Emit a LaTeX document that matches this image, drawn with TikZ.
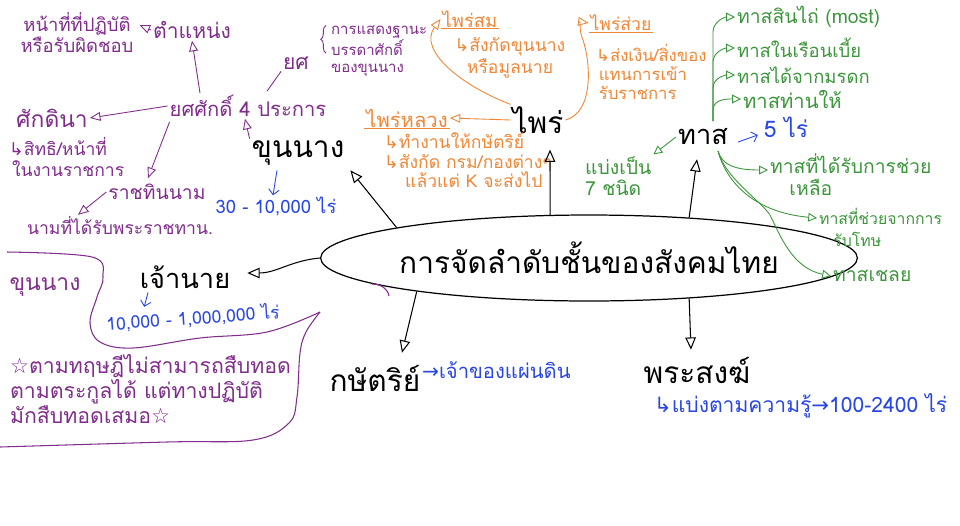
\documentclass[tikz,border=0pt]{standalone}
\usepackage{fontspec}
\setmainfont[Script=Thai]{Loma}
\newfontfamily\sym{DejaVu Sans}
\usetikzlibrary{shapes.geometric,arrows.meta,calc,decorations.pathreplacing}
\definecolor{pur}{RGB}{128,45,140}
\definecolor{org}{RGB}{240,135,55}
\definecolor{grn}{RGB}{60,150,60}
\definecolor{blu}{RGB}{40,70,230}
\newcommand\fsz[2]{\fontsize{#1}{#2}\selectfont}
\begin{document}
\begin{tikzpicture}[x=0.02cm,y=-0.02cm,
 t/.style={inner sep=1pt},
 blk/.style={t,text=black,font=\fsz{17}{20}},
 pt/.style={t,text=pur},
 ot/.style={t,text=org},
 gt/.style={t,text=grn,anchor=west},
 bt/.style={t,text=blu},
 ba/.style={-{Triangle[open,length=7pt,width=6pt]},line width=0.6pt,black},
 pa/.style={-{Triangle[open,length=6pt,width=5pt]},line width=0.5pt,pur},
 oa/.style={-{Triangle[open,length=6pt,width=5pt]},line width=0.5pt,org},
 ga/.style={-{Triangle[open,length=5pt,width=5pt]},line width=0.5pt,grn},
 bla/.style={-{Straight Barb[length=3pt]},line width=0.5pt,blu},
]
\fill[white] (0,0) rectangle (960,525);
\useasboundingbox (0,0) rectangle (960,525);

% centre
\node[draw,ellipse,line width=0.7pt,minimum width=8.16cm,minimum height=1.72cm,inner sep=0pt,font=\fsz{17}{20}] (ell) at (589,258) {การจัดลำดับชั้นของสังคมไทย};

% black main labels
\node[blk] (khun) at (298,153) {ขุนนาง};
\node[blk,font=\fsz{15.5}{18}] (chao) at (185,277) {เจ้านาย};
\node[blk] (phrai) at (538,120) {ไพร่};
\node[blk,font=\fsz{15.5}{18}] (that) at (703,137) {ทาส};
\node[blk] (kasat) at (375,378) {กษัตริย์};
\node[blk] (song) at (697,370) {พระสงฆ์};

% purple
\node[pt,font=\fsz{11.5}{14}] (yos4) at (248,106) {ยศศักดิ์ 4 ประการ};
\node[pt,font=\fsz{12}{14}] (tam) at (192,30) {ตำแหน่ง};
\node[pt,font=\fsz{10.5}{10.5},align=center] (natee) at (77,33) {หน้าที่ที่ปฏิบัติ\\หรือรับผิดชอบ};
\node[pt,font=\fsz{13}{15}] (sakdi) at (52,118) {ศักดินา};
\node[pt,font=\fsz{10}{11.5},align=left,anchor=west] (sit) at (7,157) {{\sym ↳}สิทธิ/หน้าที่\\\,ในงานราชการ};
\node[pt,font=\fsz{11}{13}] (ratch) at (157,192) {ราชทินนาม};
\node[pt,font=\fsz{10}{12}] (nam) at (120,226) {นามที่ได้รับพระราชทาน.};
\node[pt,font=\fsz{12}{14}] (yos) at (296,63) {ยศ};
\node[pt,font=\fsz{8.5}{9.6},align=left,anchor=west] (yosd) at (329,51) {การแสดงฐานะ\\บรรดาศักดิ์\\ของขุนนาง};
\draw[pur,line width=0.5pt,decorate,decoration={brace,amplitude=3pt}] ($(yosd.west)+(-3,2)$) -- ($(yosd.north west)+(-3,2)$);

% purple note
\node[pt,font=\fsz{13}{15}] (khun2) at (45,287) {ขุนนาง};
\node[pt,font=\fsz{12.1}{12.5},align=left,anchor=north west] (note) at (8,352) {{\sym ☆}ตามทฤษฎีไม่สามารถสืบทอด\\ตามตระกูลได้ แต่ทางปฏิบัติ\\มักสืบทอดเสมอ{\sym ☆}};
\draw[pur,line width=0.6pt] plot[smooth,tension=0.6] coordinates {(7,252) (92,257) (103,277) (97,297) (90,323) (100,342) (133,348) (200,338) (267,332) (320,312)};
\draw[pur,line width=0.6pt] plot[smooth,tension=0.6] coordinates {(320,312) (306,332) (300,353) (297,397) (289,423) (253,440) (167,442) (0,447)};
\draw[pur,line width=0.6pt] (372,284) to[out=0,in=100] (389,296);

% orange
\node[ot,font=\fsz{10.5}{12}] (psom) at (470,19) {ไพร่สม};
\draw[org,line width=0.5pt] ($(psom.south west)+(0,-1)$) -- ($(psom.south east)+(0,-1)$);
\node[ot,font=\fsz{10}{12.5},align=center] (psomd) at (510,58) {{\sym ↳}สังกัดขุนนาง\\หรือมูลนาย};
\node[ot,font=\fsz{10}{12}] (psuay) at (621,23) {ไพร่ส่วย};
\draw[org,line width=0.5pt] ($(psuay.south west)+(0,-1)$) -- ($(psuay.south east)+(0,-1)$);
\node[ot,font=\fsz{9.5}{10.8},align=left,anchor=north west] (psuayd) at (594,42) {{\sym ↳}ส่งเงิน/สิ่งของ\\\,แทนการเข้า\\\,รับราชการ};
\node[ot,font=\fsz{11.5}{13}] (pluang) at (407,118) {ไพร่หลวง};
\draw[org,line width=0.5pt] ($(pluang.south west)+(0,-1)$) -- ($(pluang.south east)+(0,-1)$);
\node[ot,font=\fsz{10}{11},align=left,anchor=north west] (pluangd) at (382,131) {{\sym ↳}ทำงานให้กษัตริย์\\{\sym ↳}สังกัด กรม/กองต่างๆ\\\hspace{1.2em}แล้วแต่ K จะส่งไป};

% green
\node[gt,font=\fsz{11}{13}] (g1) at (735,17) {ทาสสินไถ่ (most)};
\node[gt,font=\fsz{10.5}{13}] (g2) at (735,48) {ทาสในเรือนเบี้ย};
\node[gt,font=\fsz{10.5}{13}] (g3) at (735,75) {ทาสได้จากมรดก};
\node[gt,font=\fsz{11.5}{13}] (g4) at (741,99) {ทาสท่านให้};
\node[gt,font=\fsz{11}{12.5},align=left] (g5) at (768,175) {ทาสที่ได้รับการช่วย\\\hspace{1em}เหลือ};
\node[gt,font=\fsz{9}{12.5},align=left] (g6) at (817,227) {ทาสที่ช่วยจากการ\\\hspace{0.9em}รับโทษ};
\node[gt,font=\fsz{11}{13}] (g7) at (831,276) {ทาสเชลย};
\node[gt,font=\fsz{11}{12},align=left] (seven) at (583,176) {แบ่งเป็น\\7 ชนิด};

% blue
\node[bt,font=\fsz{10.5}{13}] (b1) at (276,207) {30 - 10,000 ไร่};
\node[bt,font=\fsz{13}{15}] (b2) at (786,127) {5 ไร่};
\node[bt,font=\fsz{10}{12},rotate=4] (b3) at (193,318) {10,000 - 1,000,000 ไร่};
\node[bt,font=\fsz{11.5}{13},anchor=west] (b4) at (420,370) {{\sym →}เจ้าของแผ่นดิน};
\node[bt,font=\fsz{12}{14},anchor=west] (b5) at (652,406) {{\sym ↳}แบ่งตามความรู้{\sym →}100-2400 ไร่};

% black connectors
\draw[ba] (ell.171.6) -- ($(khun.south east)+(4,3)$);
\draw[ba] (ell.132) -- ($(phrai.south)+(12,14)$);
\draw[ba] (ell.22.4) -- ($(that.south)+(-6,12)$);
\draw[ba] (ell.west) to[out=185,in=0] ($(chao.east)+(15,-4)$);
\draw[ba] (ell.191) -- ($(kasat.north)+(27,-10)$);
\draw[ba] (ell.-22) -- ($(song.north)+(-6,-5)$);

% purple connectors
\draw[pa] (khun.north west) -- ($(yos4.south)+(-3,0)$);
\draw[pa] ($(yos4.north)+(-48,0)$) -- (tam.south);
\draw[pa] (tam.west) -- ($(natee.east)+(4,-8)$);
\draw[pa] (yos4.west) -- (sakdi.east);
\draw[pa] ($(yos4.south west)+(2,3)$) -- ($(ratch.north)+(-9,-4)$);
\draw[pa] (ratch.west) -- ($(nam.north)+(-42,0)$);
\draw[pur,line width=0.5pt] ($(yos4.north)+(19,-2)$) -- (yos.south west);

% orange connectors
\draw[oa] (phrai.north west) .. controls (460,85) and (418,50) .. (psom.west);
\draw[oa] (phrai.east) .. controls (595,112) and (590,60) .. (583,40) .. controls (578,28) and (582,22) .. (psuay.west);
\draw[oa] (phrai.west) -- (pluang.east);

% green connectors
\coordinate (tr) at (713,121);
\draw[ga] (tr) -- (713,32) to[out=90,in=180] (g1.west);
\draw[ga] (tr) -- (713,62) to[out=90,in=180] (g2.west);
\draw[ga] (tr) -- (713,88) to[out=90,in=180] (g3.west);
\draw[ga] (tr) -- (713,110) to[out=90,in=180] (g4.west);
\draw[ga] (that.west) -- (seven.north east);
\coordinate (ts) at (718,151);
\draw[ga] (ts) .. controls (722,165) and (735,170) .. ($(g5.west)+(0,-5)$);
\draw[ga] (ts) .. controls (725,178) and (750,212) .. ($(g6.west)+(0,-9)$);
\draw[ga] (ts) .. controls (725,178) and (760,200) .. (770,215) .. controls (780,235) and (792,268) .. (g7.west);

% blue connectors
\draw[bla] ($(khun.south)+(-21,3)$) -- ($(b1.north)+(-3,0)$);
\draw[bla] ($(that.east)+(8,5)$) -- ($(b2.west)+(-4,8)$);
\draw[bla] ($(chao.south)+(-37,2)$) -- ($(b3.north)+(-48,0)$);
\end{tikzpicture}
\end{document}
